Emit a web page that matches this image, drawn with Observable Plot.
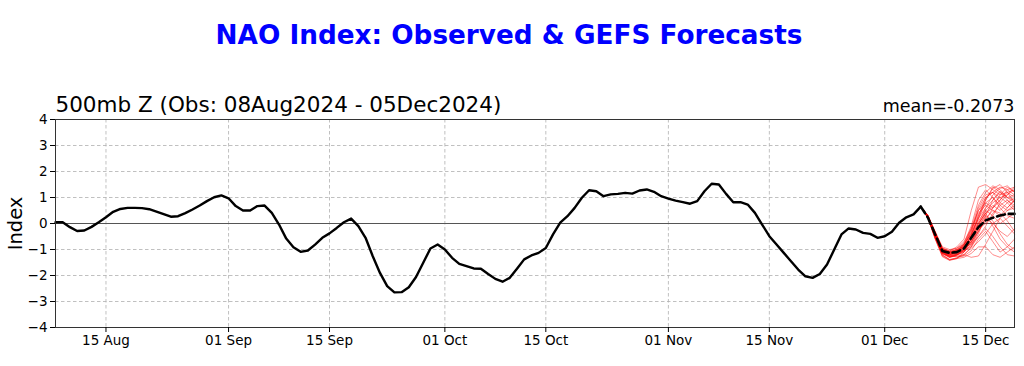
<!DOCTYPE html>
<html><head><meta charset="utf-8">
<script src="https://cdn.jsdelivr.net/npm/d3@7"></script>
<script src="https://cdn.jsdelivr.net/npm/@observablehq/plot@0.6"></script>
<style>body{margin:0;background:#fff;} svg{font-family:"DejaVu Sans";}</style>
</head><body><div id="chart"></div>
<script>
const titleText = "NAO Index: Observed & GEFS Forecasts";
const subtitleText = "500mb Z (Obs: 08Aug2024 - 05Dec2024)";
const meanText = "mean=-0.2073";
const yLabel = "Index";

const obsStart = "2024-08-08";
const fcstStart = "2024-12-06";
const xDomain = ["2024-08-08", "2024-12-19"];
const xTicks = ["2024-08-15","2024-09-01","2024-09-15","2024-10-01","2024-10-15","2024-11-01","2024-11-15","2024-12-01","2024-12-15"];
const yTicks = [-4,-3,-2,-1,0,1,2,3,4];

// observed daily NAO index, 08 Aug onward
const obsValues = [
 0.05,0.05,-0.14,-0.29,-0.27,-0.13,0.05,0.24,0.45,0.56,
 0.60,0.60,0.59,0.55,0.46,0.36,0.26,0.28,0.40,0.54,
 0.69,0.86,1.01,1.08,0.97,0.67,0.50,0.50,0.67,0.69,
 0.41,-0.04,-0.58,-0.91,-1.09,-1.04,-0.81,-0.55,-0.38,-0.17,
 0.05,0.19,-0.10,-0.55,-1.26,-1.90,-2.41,-2.65,-2.64,-2.45,
 -2.06,-1.51,-0.96,-0.81,-1.00,-1.32,-1.55,-1.64,-1.73,-1.74,
 -1.94,-2.13,-2.24,-2.09,-1.74,-1.38,-1.23,-1.13,-0.94,-0.42,
 0.03,0.28,0.60,0.99,1.28,1.24,1.05,1.12,1.14,1.18,
 1.15,1.27,1.31,1.22,1.05,0.96,0.88,0.82,0.76,0.86,
 1.24,1.53,1.50,1.14,0.82,0.82,0.73,0.41,-0.04,-0.49,
 -0.81,-1.13,-1.45,-1.77,-2.03,-2.09,-1.94,-1.58,-1.00,-0.42,
 -0.19,-0.23,-0.36,-0.40,-0.55,-0.49,-0.32,0.03,0.24,0.35,
 0.65
];

// GEFS ensemble mean, from 06 Dec
const meanValues = [0.65,0.22,-0.42,-1.06,-1.13,-1.10,-0.96,-0.55,-0.14,0.12,0.22,0.31,0.37,0.37];

// GEFS members, from 06 Dec
const members = [
 [0.65,0.30,-0.35,-0.95,-1.05,-0.90,-0.60,0.50,1.40,1.50,1.30,1.10,1.20,1.00],
 [0.65,0.25,-0.45,-1.10,-1.20,-1.10,-0.80,-0.20,0.70,1.20,1.45,1.30,1.00,0.80],
 [0.65,0.20,-0.50,-1.15,-1.30,-1.25,-1.20,-1.30,-1.25,-0.80,-0.30,0.20,0.50,0.60],
 [0.65,0.30,-0.40,-1.00,-1.10,-1.00,-0.90,-0.50,0.00,0.40,0.60,0.90,1.20,1.30],
 [0.65,0.28,-0.42,-1.05,-1.15,-1.15,-1.00,-0.70,-0.30,0.20,0.50,0.40,0.10,-0.30],
 [0.65,0.22,-0.55,-1.20,-1.40,-1.35,-1.10,-0.60,-0.10,0.30,0.10,-0.40,-0.80,-1.00],
 [0.65,0.30,-0.30,-0.90,-1.00,-0.95,-0.70,-0.20,0.50,1.00,1.20,1.40,1.30,1.10],
 [0.65,0.25,-0.50,-1.10,-1.25,-1.20,-1.05,-0.90,-0.40,0.30,0.90,1.20,0.90,0.60],
 [0.65,0.27,-0.45,-1.05,-1.20,-1.10,-0.95,-0.45,0.20,0.80,1.00,0.70,0.50,0.70],
 [0.65,0.20,-0.60,-1.28,-1.42,-1.35,-1.30,-1.15,-0.90,-0.90,-1.20,-1.30,-1.10,-0.90],
 [0.65,0.30,-0.38,-1.00,-1.10,-1.05,-0.85,-0.30,0.40,0.70,0.50,0.30,0.60,0.90],
 [0.65,0.24,-0.48,-1.12,-1.28,-1.22,-1.00,-0.60,0.00,0.60,1.10,1.35,1.45,1.20],
 [0.65,0.26,-0.44,-1.08,-1.18,-1.12,-0.90,-0.80,-0.50,-0.20,-0.50,-0.90,-1.20,-1.25],
 [0.65,0.29,-0.36,-0.98,-1.08,-1.00,-0.75,-0.10,0.90,1.30,1.00,0.60,0.30,0.20],
 [0.65,0.23,-0.52,-1.15,-1.30,-1.20,-1.10,-0.70,-0.20,0.00,0.30,0.80,1.10,1.40],
 [0.65,0.27,-0.43,-1.02,-1.12,-1.08,-0.92,-0.55,0.10,0.50,0.80,1.00,0.80,0.50],
 [0.65,0.21,-0.57,-1.22,-1.38,-1.32,-1.18,-0.95,-0.70,-0.40,0.00,0.20,-0.10,-0.40],
 [0.65,0.30,-0.33,-0.95,-1.05,-0.95,-0.80,-0.40,0.30,0.90,1.35,1.50,1.20,0.80],
 [0.65,0.25,-0.47,-1.10,-1.22,-1.15,-1.00,-0.75,-0.20,0.40,0.70,0.50,0.80,1.00],
 [0.65,0.22,-0.50,-1.12,-1.25,-1.28,-1.25,-1.05,-0.60,-0.30,-0.70,-1.10,-0.90,-0.60],
 [0.65,0.28,-0.40,-1.00,-1.15,-1.05,-0.85,-0.35,0.60,1.10,1.20,1.00,1.10,1.30],
 [0.65,0.24,-0.50,-1.15,-1.25,-1.18,-1.00,-0.70,-0.10,0.50,0.30,0.00,0.20,0.40],
 [0.65,0.26,-0.46,-1.06,-1.20,-1.10,-0.90,-0.50,0.20,0.90,1.40,1.20,1.00,1.10],
 [0.65,0.20,-0.58,-1.25,-1.40,-1.33,-1.22,-0.90,-0.50,-0.10,0.40,0.70,0.90,0.70],
 [0.65,0.30,-0.35,-0.97,-1.08,-1.02,-0.80,-0.25,0.50,0.80,0.60,0.90,1.30,1.40],
 [0.65,0.25,-0.48,-1.10,-1.22,-1.18,-1.05,-0.85,-0.30,0.20,0.00,-0.30,-0.50,-0.20],
 [0.65,0.27,-0.42,-1.04,-1.15,-1.08,-0.88,-0.45,0.30,1.00,1.20,0.80,0.60,0.90],
 [0.65,0.23,-0.53,-1.17,-1.30,-1.22,-1.10,-0.80,-0.30,0.10,0.60,1.10,1.40,1.20],
 [0.65,0.28,-0.39,-1.01,-1.12,-1.04,-0.82,-0.40,0.20,0.60,0.90,1.25,1.00,0.90],
 [0.65,0.24,-0.50,-1.13,-1.27,-1.20,-1.05,-0.60,0.00,0.40,-0.10,-0.60,-0.90,-1.10]
];

const dayOf = (start, i) => d3.utcDay.offset(new Date(start), i);
const obsRows = obsValues.map((v, i) => ({date: dayOf(obsStart, i), value: v}));
const meanRows = meanValues.map((v, i) => ({date: dayOf(fcstStart, i), value: v}));
const memberRows = members.flatMap((m, k) => m.map((v, i) => ({member: k, date: dayOf(fcstStart, i), value: v})));
const xTickDates = xTicks.map(d => new Date(d));

const chart = Plot.plot({
  width: 1024, height: 366,
  marginTop: 119, marginBottom: 39, marginLeft: 55, marginRight: 10,
  style: {fontFamily: "DejaVu Sans", fontSize: "13.5px", background: "white", overflow: "visible", color: "black"},
  x: {type: "utc", domain: xDomain.map(d => new Date(d)), label: null},
  y: {domain: [-4, 4], label: null},
  marks: [
    Plot.gridY(yTicks, {stroke: "#b0b0b0", strokeOpacity: 1, strokeDasharray: "3.5,2.5", strokeWidth: 0.8}),
    Plot.gridX(xTickDates, {stroke: "#b0b0b0", strokeOpacity: 1, strokeDasharray: "3.5,2.5", strokeWidth: 0.8}),
    Plot.ruleY([0], {stroke: "#555", strokeWidth: 1}),
    Plot.line(obsRows, {x: "date", y: "value", stroke: "black", strokeWidth: 2.4}),
    Plot.line(memberRows, {x: "date", y: "value", z: "member", stroke: "red", strokeOpacity: 0.5, strokeWidth: 0.9}),
    Plot.line(meanRows, {x: "date", y: "value", stroke: "black", strokeWidth: 2.6, strokeDasharray: "8,4"}),
    Plot.frame({stroke: "#333", strokeWidth: 1}),
    Plot.axisX(xTickDates, {tickSize: 5, tickPadding: 3, tickFormat: d3.utcFormat("%d %b"), label: null}),
    Plot.axisY(yTicks, {tickSize: 5, tickPadding: 3, label: null}),
    Plot.text([titleText], {frameAnchor: "top", dx: -26, dy: -76, lineAnchor: "bottom", textAnchor: "middle", fontSize: 26.3, fontWeight: "bold", fill: "blue"}),
    Plot.text([subtitleText], {frameAnchor: "top-left", dy: -8, lineAnchor: "bottom", textAnchor: "start", fontSize: 21.5, fill: "black"}),
    Plot.text([meanText], {frameAnchor: "top-right", dy: -8, lineAnchor: "bottom", textAnchor: "end", fontSize: 17.5, fill: "black"}),
    Plot.text([yLabel], {frameAnchor: "left", dx: -40, rotate: -90, textAnchor: "middle", fontSize: 19.5, fill: "black"})
  ]
});
document.getElementById("chart").appendChild(chart);
</script>
</body></html>
